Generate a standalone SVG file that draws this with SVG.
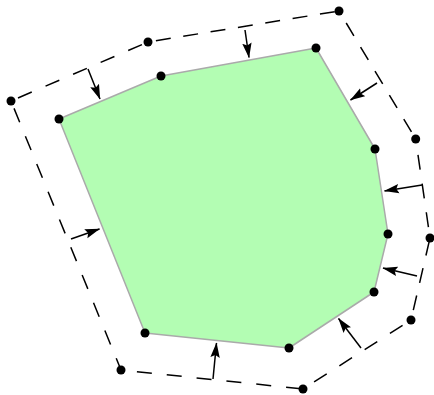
<svg xmlns="http://www.w3.org/2000/svg" width="434" height="395" viewBox="0 0 434 395">
<style>
.bg{fill:#ffffff}
.poly{fill:#b3fdb3;stroke:#aaaaaa;stroke-width:1.5;stroke-linejoin:round}
.dash{stroke:#000;stroke-width:1.5;fill:none}
.arr{stroke:#000;stroke-width:1.5;fill:none;marker-end:url(#ah)}
.dot{fill:#000}
</style>
<defs>
<marker id="ah" viewBox="0 0 15 10" refX="14.5" refY="5" markerWidth="15" markerHeight="10" orient="auto" markerUnits="userSpaceOnUse">
<path d="M0,0.3 L15,5 L0,9.7 L2.5,5 z" fill="#000"/>
</marker>
</defs>
<rect class="bg" x="0" y="0" width="434" height="395"/>
<g id="inner-polygon">
<polygon class="poly" points="59,119 161,76 316,48 375,149 388,234 374,292 289,348 145,333"/>
</g>
<g id="connectors">
<g id="offset-edges">
<line class="dash" x1="11" y1="101" x2="148" y2="42" stroke-dasharray="15 15" stroke-dashoffset="22.4"/>
<line class="dash" x1="148" y1="42" x2="339" y2="11" stroke-dasharray="15 12.7" stroke-dashoffset="19.7"/>
<line class="dash" x1="339" y1="11" x2="415.7" y2="139" stroke-dasharray="15 13" stroke-dashoffset="14"/>
<line class="dash" x1="415.7" y1="139" x2="430" y2="238" stroke-dasharray="15 14" stroke-dashoffset="13"/>
<line class="dash" x1="430" y1="238" x2="411" y2="320" stroke-dasharray="15 13" stroke-dashoffset="25"/>
<line class="dash" x1="411" y1="320" x2="303" y2="389" stroke-dasharray="15 15" stroke-dashoffset="20"/>
<line class="dash" x1="303" y1="389" x2="121" y2="370" stroke-dasharray="15 15" stroke-dashoffset="28"/>
<line class="dash" x1="11" y1="101" x2="121" y2="370" stroke-dasharray="15 15" stroke-dashoffset="22"/>
</g>
<g id="arrows">
<line class="arr" x1="88" y1="69" x2="100" y2="99"/>
<line class="arr" x1="245" y1="30" x2="249" y2="57.5"/>
<line class="arr" x1="377" y1="83" x2="350.5" y2="100"/>
<line class="arr" x1="422" y1="185" x2="384.5" y2="191"/>
<line class="arr" x1="417" y1="276" x2="383" y2="268"/>
<line class="arr" x1="361" y1="348" x2="338.5" y2="318.5"/>
<line class="arr" x1="213" y1="379" x2="216.5" y2="343"/>
<line class="arr" x1="71" y1="239" x2="99.5" y2="229"/>
</g>
</g>
<g id="inner-vertices">
<circle class="dot" cx="59" cy="119" r="4.5"/>
<circle class="dot" cx="161" cy="76" r="4.5"/>
<circle class="dot" cx="316" cy="48" r="4.5"/>
<circle class="dot" cx="375" cy="149" r="4.5"/>
<circle class="dot" cx="388" cy="234" r="4.5"/>
<circle class="dot" cx="374" cy="292" r="4.5"/>
<circle class="dot" cx="289" cy="348" r="4.5"/>
<circle class="dot" cx="145" cy="333" r="4.5"/>
</g>
<g id="outer-vertices">
<circle class="dot" cx="11" cy="101" r="4.5"/>
<circle class="dot" cx="148" cy="42" r="4.5"/>
<circle class="dot" cx="339" cy="11" r="4.5"/>
<circle class="dot" cx="415.7" cy="139" r="4.5"/>
<circle class="dot" cx="430" cy="238" r="4.5"/>
<circle class="dot" cx="411" cy="320" r="4.5"/>
<circle class="dot" cx="303" cy="389" r="4.5"/>
<circle class="dot" cx="121" cy="370" r="4.5"/>
</g>
</svg>
